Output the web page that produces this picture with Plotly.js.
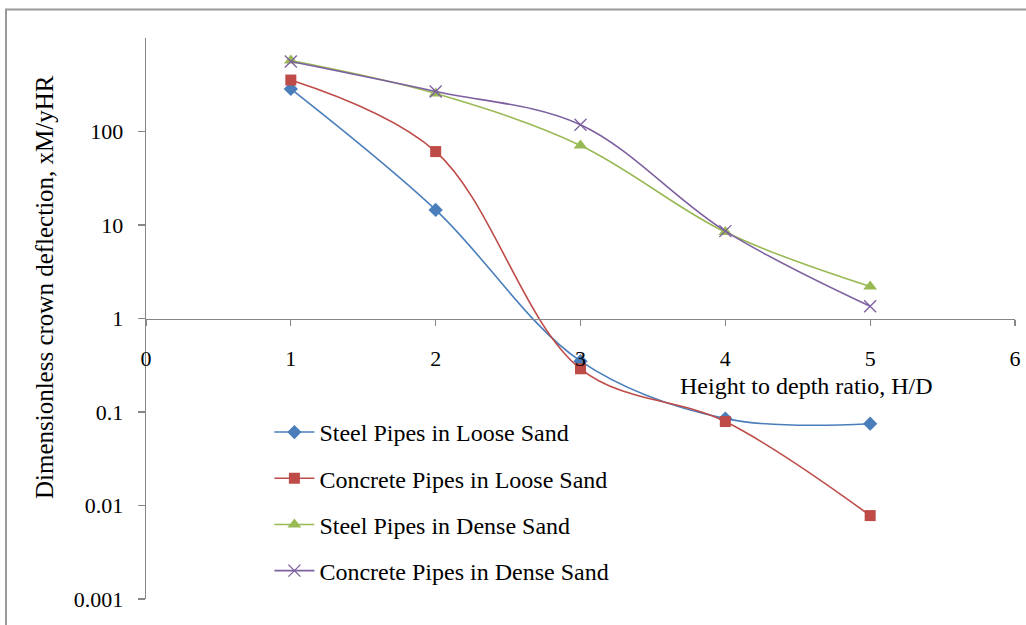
<!DOCTYPE html>
<html>
<head>
<meta charset="utf-8">
<script src="https://cdn.plot.ly/plotly-3.0.1.min.js"></script>
<style>
  html, body { margin: 0; padding: 0; background: #ffffff; }
  #chart { width: 1026px; height: 625px; }
</style>
</head>
<body>
<div id="chart"></div>
<script>
// ---- data ----
const heightRatio = [1, 2, 3, 4, 5];
const steelLoose = [285, 14.5, 0.35, 0.085, 0.075];
const concreteLoose = [355, 61, 0.29, 0.079, 0.0078];
const steelDense = [575, 255, 71, 8.4, 2.2];
const concreteDense = [560, 268, 118, 8.6, 1.35];
const seriesNames = [
  "Steel Pipes in Loose Sand",
  "Concrete Pipes in Loose Sand",
  "Steel Pipes in Dense Sand",
  "Concrete Pipes in Dense Sand"
];
const yTickVals = [0.001, 0.01, 0.1, 1, 10, 100];
const yTickText = ["0.001", "0.01", "0.1", "1", "10", "100"];
const xTickVals = [0, 1, 2, 3, 4, 5, 6];

const FONT = "Liberation Serif, Times New Roman, serif";

function mk(y, name, color, symbol, size, group) {
  return {
    x: heightRatio, y: y, name: name, type: "scatter", mode: "lines+markers",
    legendgroup: group,
    line: { color: color, width: 1.6, shape: "spline", smoothing: 1 },
    marker: { color: color, symbol: symbol, size: size,
              line: { color: color, width: symbol.indexOf("x") === 0 ? 1.3 : 0 } }
  };
}

const traces = [
  mk(steelLoose, seriesNames[0], "#4A7EBB", "diamond", 11, "g1"),
  mk(concreteLoose, seriesNames[1], "#BE4B48", "square", 11, "g2"),
  mk(steelDense, seriesNames[2], "#98B954", "triangle-up", 12, "g3"),
  mk(concreteDense, seriesNames[3], "#7D60A0", "x-thin-open", 12, "g4")
];

const layout = {
  width: 1026, height: 625,
  margin: { l: 146, r: 11, t: 37.5, b: 25.7, pad: 0 },
  paper_bgcolor: "#ffffff", plot_bgcolor: "#ffffff",
  font: { family: FONT, size: 22, color: "#000000" },
  showlegend: true,
  legend: {
    x: 0.142, y: 0.337, xanchor: "left", yanchor: "top",
    bgcolor: "rgba(0,0,0,0)", font: { family: FONT, size: 24, color: "#000" },
    tracegroupgap: 12, itemwidth: 40, traceorder: "grouped"
  },
  xaxis: {
    range: [0, 6], tickvals: xTickVals, ticktext: xTickVals.map(String),
    anchor: "free", position: 0.5,
    showline: true, linecolor: "#868686", linewidth: 1.3,
    ticks: "outside", ticklen: 6, tickcolor: "#868686", tickwidth: 1.3,
    ticklabelstandoff: 14,
    showgrid: false, zeroline: false,
    tickfont: { family: FONT, size: 22, color: "#000" }
  },
  yaxis: {
    type: "log", range: [-3, 3], tickvals: yTickVals, ticktext: yTickText,
    showline: true, linecolor: "#868686", linewidth: 1.3,
    ticks: "outside", ticklen: 7, tickcolor: "#868686", tickwidth: 1.3,
    ticklabelstandoff: 10,
    showgrid: false, zeroline: false,
    tickfont: { family: FONT, size: 22, color: "#000" }
  },
  annotations: [
    { text: "Height to depth ratio, H/D", xref: "paper", yref: "paper",
      x: 0.7595, y: 0.3797, xanchor: "center", yanchor: "middle", showarrow: false,
      font: { family: FONT, size: 24, color: "#000" } },
    { text: "Dimensionless crown deflection, xM/yHR", xref: "paper", yref: "paper",
      x: -0.1174, y: 0.556, xanchor: "center", yanchor: "middle", showarrow: false,
      textangle: -90, font: { family: FONT, size: 25, color: "#000" } }
  ],
  shapes: [
    { type: "rect", xref: "paper", yref: "paper",
      x0: -0.1611, y0: -0.2, x1: 1.2, y1: 1.0507,
      line: { color: "#9a9a9a", width: 2 }, fillcolor: "rgba(0,0,0,0)", layer: "below" }
  ]
};

Plotly.newPlot("chart", traces, layout, { staticPlot: true, displayModeBar: false });
</script>
</body>
</html>
